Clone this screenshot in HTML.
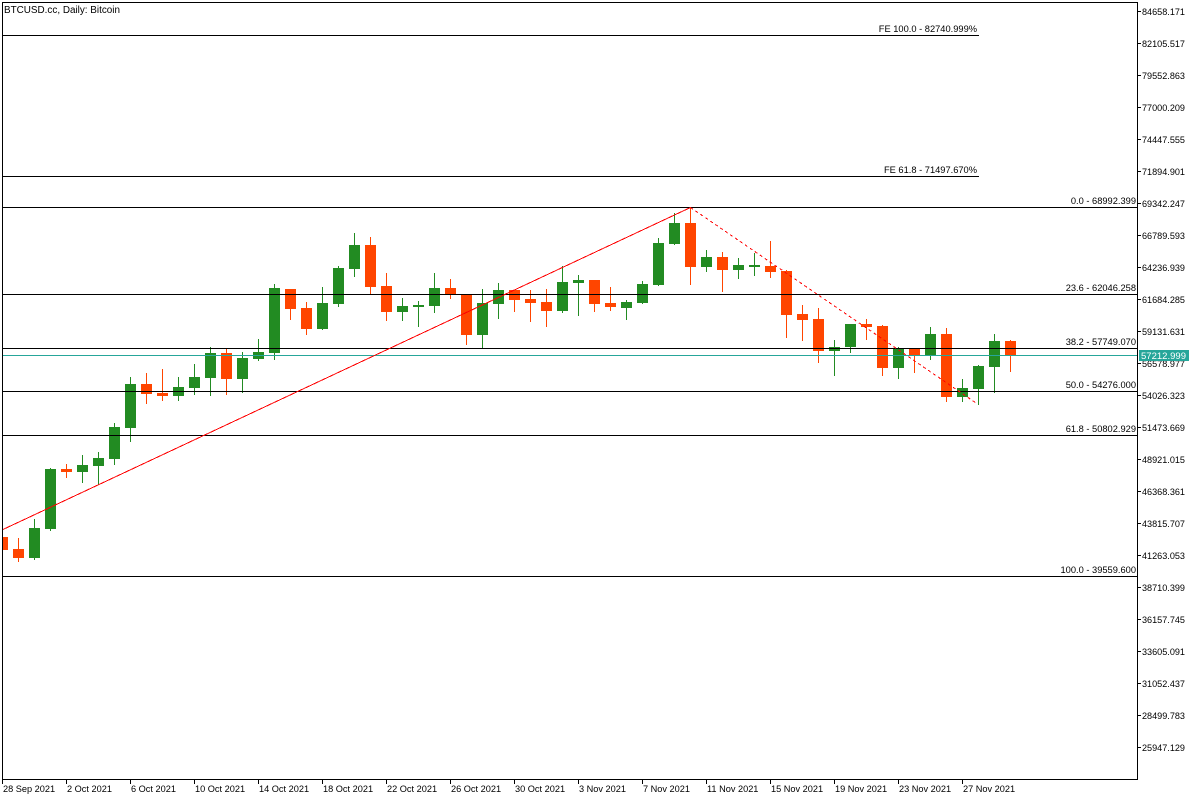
<!DOCTYPE html>
<html><head><meta charset="utf-8"><style>
html,body{margin:0;padding:0;background:#fff;}
svg{display:block;}
text{font-family:"Liberation Sans",sans-serif;fill:#000;}
</style></head><body>
<svg width="1200" height="800" viewBox="0 0 1200 800" xmlns="http://www.w3.org/2000/svg">
<rect x="0" y="0" width="1200" height="800" fill="#fff"/>
<defs><clipPath id="pc"><rect x="3" y="3" width="1134" height="776"/></clipPath></defs>

<g clip-path="url(#pc)" shape-rendering="crispEdges">
<!-- candles -->
<g fill="#ff4500">
<rect x="2" y="535" width="1" height="17"/><rect x="-3" y="537" width="11" height="13"/>
<rect x="18" y="538" width="1" height="24"/><rect x="13" y="549" width="11" height="9"/>
<rect x="66" y="464" width="1" height="14"/><rect x="61" y="469" width="11" height="3"/>
<rect x="146" y="373" width="1" height="31"/><rect x="141" y="384" width="11" height="10"/>
<rect x="162" y="369" width="1" height="32"/><rect x="157" y="393" width="11" height="3"/>
<rect x="226" y="348" width="1" height="47"/><rect x="221" y="353" width="11" height="26"/>
<rect x="290" y="289" width="1" height="31"/><rect x="285" y="289" width="11" height="20"/>
<rect x="306" y="302" width="1" height="33"/><rect x="301" y="308" width="11" height="21"/>
<rect x="370" y="237" width="1" height="57"/><rect x="365" y="245" width="11" height="42"/>
<rect x="386" y="273" width="1" height="48"/><rect x="381" y="286" width="11" height="26"/>
<rect x="450" y="279" width="1" height="20"/><rect x="445" y="288" width="11" height="6"/>
<rect x="466" y="295" width="1" height="50"/><rect x="461" y="295" width="11" height="40"/>
<rect x="514" y="290" width="1" height="22"/><rect x="509" y="290" width="11" height="10"/>
<rect x="530" y="290" width="1" height="32"/><rect x="525" y="299" width="11" height="4"/>
<rect x="546" y="289" width="1" height="38"/><rect x="541" y="302" width="11" height="9"/>
<rect x="594" y="280" width="1" height="32"/><rect x="589" y="280" width="11" height="24"/>
<rect x="610" y="287" width="1" height="24"/><rect x="605" y="303" width="11" height="4"/>
<rect x="690" y="207" width="1" height="78"/><rect x="685" y="223" width="11" height="44"/>
<rect x="722" y="252" width="1" height="40"/><rect x="717" y="257" width="11" height="13"/>
<rect x="770" y="241" width="1" height="37"/><rect x="765" y="266" width="11" height="6"/>
<rect x="786" y="270" width="1" height="68"/><rect x="781" y="271" width="11" height="44"/>
<rect x="802" y="305" width="1" height="36"/><rect x="797" y="314" width="11" height="6"/>
<rect x="818" y="308" width="1" height="55"/><rect x="813" y="319" width="11" height="32"/>
<rect x="866" y="319" width="1" height="21"/><rect x="861" y="324" width="11" height="3"/>
<rect x="882" y="325" width="1" height="51"/><rect x="877" y="326" width="11" height="42"/>
<rect x="914" y="349" width="1" height="24"/><rect x="909" y="349" width="11" height="6"/>
<rect x="946" y="328" width="1" height="74"/><rect x="941" y="334" width="11" height="63"/>
<rect x="1010" y="340" width="1" height="32"/><rect x="1005" y="341" width="11" height="15"/>
</g>
<g fill="#228b22">
<rect x="34" y="519" width="1" height="41"/><rect x="29" y="528" width="11" height="30"/>
<rect x="50" y="468" width="1" height="63"/><rect x="45" y="469" width="11" height="60"/>
<rect x="82" y="455" width="1" height="28"/><rect x="77" y="465" width="11" height="7"/>
<rect x="98" y="452" width="1" height="33"/><rect x="93" y="458" width="11" height="8"/>
<rect x="114" y="423" width="1" height="42"/><rect x="109" y="427" width="11" height="32"/>
<rect x="130" y="377" width="1" height="65"/><rect x="125" y="384" width="11" height="44"/>
<rect x="178" y="377" width="1" height="24"/><rect x="173" y="387" width="11" height="9"/>
<rect x="194" y="364" width="1" height="31"/><rect x="189" y="377" width="11" height="11"/>
<rect x="210" y="347" width="1" height="49"/><rect x="205" y="353" width="11" height="25"/>
<rect x="242" y="352" width="1" height="41"/><rect x="237" y="358" width="11" height="21"/>
<rect x="258" y="339" width="1" height="22"/><rect x="253" y="352" width="11" height="7"/>
<rect x="274" y="284" width="1" height="76"/><rect x="269" y="288" width="11" height="65"/>
<rect x="322" y="287" width="1" height="43"/><rect x="317" y="303" width="11" height="26"/>
<rect x="338" y="266" width="1" height="41"/><rect x="333" y="268" width="11" height="36"/>
<rect x="354" y="233" width="1" height="44"/><rect x="349" y="245" width="11" height="24"/>
<rect x="402" y="298" width="1" height="23"/><rect x="397" y="306" width="11" height="6"/>
<rect x="418" y="301" width="1" height="26"/><rect x="413" y="305" width="11" height="2"/>
<rect x="434" y="273" width="1" height="40"/><rect x="429" y="288" width="11" height="18"/>
<rect x="482" y="289" width="1" height="59"/><rect x="477" y="303" width="11" height="32"/>
<rect x="498" y="283" width="1" height="36"/><rect x="493" y="290" width="11" height="14"/>
<rect x="562" y="266" width="1" height="47"/><rect x="557" y="282" width="11" height="29"/>
<rect x="578" y="275" width="1" height="41"/><rect x="573" y="280" width="11" height="3"/>
<rect x="626" y="300" width="1" height="20"/><rect x="621" y="302" width="11" height="6"/>
<rect x="642" y="281" width="1" height="23"/><rect x="637" y="284" width="11" height="19"/>
<rect x="658" y="238" width="1" height="48"/><rect x="653" y="243" width="11" height="42"/>
<rect x="674" y="213" width="1" height="32"/><rect x="669" y="223" width="11" height="21"/>
<rect x="706" y="250" width="1" height="22"/><rect x="701" y="257" width="11" height="10"/>
<rect x="738" y="258" width="1" height="21"/><rect x="733" y="265" width="11" height="5"/>
<rect x="754" y="253" width="1" height="23"/><rect x="749" y="265" width="11" height="2"/>
<rect x="834" y="340" width="1" height="36"/><rect x="829" y="347" width="11" height="4"/>
<rect x="850" y="324" width="1" height="29"/><rect x="845" y="324" width="11" height="23"/>
<rect x="898" y="347" width="1" height="32"/><rect x="893" y="349" width="11" height="19"/>
<rect x="930" y="327" width="1" height="33"/><rect x="925" y="334" width="11" height="21"/>
<rect x="962" y="379" width="1" height="23"/><rect x="957" y="388" width="11" height="9"/>
<rect x="978" y="365" width="1" height="40"/><rect x="973" y="366" width="11" height="23"/>
<rect x="994" y="334" width="1" height="59"/><rect x="989" y="341" width="11" height="26"/>
</g>

<!-- current price line -->
<rect x="2" y="355" width="1136" height="1" fill="#26a69a"/>

<!-- fib levels -->
<g fill="#000">
<rect x="2" y="35" width="977" height="1"/>
<rect x="2" y="176" width="977" height="1"/>
<rect x="2" y="207" width="1136" height="1"/>
<rect x="2" y="294" width="1136" height="1"/>
<rect x="2" y="348" width="1136" height="1"/>
<rect x="2" y="391" width="1136" height="1"/>
<rect x="2" y="435" width="1136" height="1"/>
<rect x="2" y="576" width="1136" height="1"/>
</g>

<!-- trend lines -->
<line x1="-100" y1="577.7" x2="690.5" y2="207.5" stroke="#ff0000" stroke-width="1"/>
<line x1="690.5" y1="207.5" x2="977.5" y2="404" stroke="#ff0000" stroke-width="1" stroke-dasharray="3,3"/>
</g>

<!-- frame -->
<g fill="#000" shape-rendering="crispEdges">
<rect x="2" y="2" width="1136" height="1"/>
<rect x="2" y="2" width="1" height="778"/>
<rect x="2" y="779" width="1136" height="1"/>
<rect x="1137" y="2" width="1" height="778"/>
</g>

<!-- title -->
<text x="4" y="13" font-size="10" textLength="116" lengthAdjust="spacingAndGlyphs">BTCUSD.cc, Daily:  Bitcoin</text>

<!-- fib labels -->
<g font-size="9.3" text-anchor="end">
<text x="977" y="32">FE 100.0 - 82740.999%</text>
<text x="977" y="173">FE 61.8 - 71497.670%</text>
<text x="1136" y="204">0.0 - 68992.399</text>
<text x="1136" y="291">23.6 - 62046.258</text>
<text x="1136" y="345">38.2 - 57749.070</text>
<text x="1136" y="388">50.0 - 54276.000</text>
<text x="1136" y="432">61.8 - 50802.929</text>
<text x="1136" y="573">100.0 - 39559.600</text>
</g>

<!-- right axis ticks -->
<g fill="#000" shape-rendering="crispEdges">
<rect x="1137" y="11" width="4" height="1"/><rect x="1137" y="43" width="4" height="1"/>
<rect x="1137" y="75" width="4" height="1"/><rect x="1137" y="107" width="4" height="1"/>
<rect x="1137" y="139" width="4" height="1"/><rect x="1137" y="171" width="4" height="1"/>
<rect x="1137" y="203" width="4" height="1"/><rect x="1137" y="235" width="4" height="1"/>
<rect x="1137" y="267" width="4" height="1"/><rect x="1137" y="299" width="4" height="1"/>
<rect x="1137" y="331" width="4" height="1"/><rect x="1137" y="363" width="4" height="1"/>
<rect x="1137" y="395" width="4" height="1"/><rect x="1137" y="427" width="4" height="1"/>
<rect x="1137" y="459" width="4" height="1"/><rect x="1137" y="491" width="4" height="1"/>
<rect x="1137" y="523" width="4" height="1"/><rect x="1137" y="555" width="4" height="1"/>
<rect x="1137" y="587" width="4" height="1"/><rect x="1137" y="619" width="4" height="1"/>
<rect x="1137" y="651" width="4" height="1"/><rect x="1137" y="683" width="4" height="1"/>
<rect x="1137" y="715" width="4" height="1"/><rect x="1137" y="747" width="4" height="1"/>
</g>
<g font-size="9.5">
<text x="1142" y="15" textLength="43" lengthAdjust="spacingAndGlyphs">84658.171</text>
<text x="1142" y="47" textLength="43" lengthAdjust="spacingAndGlyphs">82105.517</text>
<text x="1142" y="79" textLength="43" lengthAdjust="spacingAndGlyphs">79552.863</text>
<text x="1142" y="111" textLength="43" lengthAdjust="spacingAndGlyphs">77000.209</text>
<text x="1142" y="143" textLength="43" lengthAdjust="spacingAndGlyphs">74447.555</text>
<text x="1142" y="175" textLength="43" lengthAdjust="spacingAndGlyphs">71894.901</text>
<text x="1142" y="207" textLength="43" lengthAdjust="spacingAndGlyphs">69342.247</text>
<text x="1142" y="239" textLength="43" lengthAdjust="spacingAndGlyphs">66789.593</text>
<text x="1142" y="271" textLength="43" lengthAdjust="spacingAndGlyphs">64236.939</text>
<text x="1142" y="303" textLength="43" lengthAdjust="spacingAndGlyphs">61684.285</text>
<text x="1142" y="335" textLength="43" lengthAdjust="spacingAndGlyphs">59131.631</text>
<text x="1142" y="367" textLength="43" lengthAdjust="spacingAndGlyphs">56578.977</text>
<text x="1142" y="399" textLength="43" lengthAdjust="spacingAndGlyphs">54026.323</text>
<text x="1142" y="431" textLength="43" lengthAdjust="spacingAndGlyphs">51473.669</text>
<text x="1142" y="463" textLength="43" lengthAdjust="spacingAndGlyphs">48921.015</text>
<text x="1142" y="495" textLength="43" lengthAdjust="spacingAndGlyphs">46368.361</text>
<text x="1142" y="527" textLength="43" lengthAdjust="spacingAndGlyphs">43815.707</text>
<text x="1142" y="559" textLength="43" lengthAdjust="spacingAndGlyphs">41263.053</text>
<text x="1142" y="591" textLength="43" lengthAdjust="spacingAndGlyphs">38710.399</text>
<text x="1142" y="623" textLength="43" lengthAdjust="spacingAndGlyphs">36157.745</text>
<text x="1142" y="655" textLength="43" lengthAdjust="spacingAndGlyphs">33605.091</text>
<text x="1142" y="687" textLength="43" lengthAdjust="spacingAndGlyphs">31052.437</text>
<text x="1142" y="719" textLength="43" lengthAdjust="spacingAndGlyphs">28499.783</text>
<text x="1142" y="751" textLength="43" lengthAdjust="spacingAndGlyphs">25947.129</text>
</g>

<!-- current price label -->
<rect x="1139" y="350" width="50" height="11" fill="#26a69a"/>
<text x="1141" y="359" font-size="9.5" textLength="45" lengthAdjust="spacingAndGlyphs" style="fill:#fff">57212.999</text>

<!-- bottom date ticks -->
<g fill="#000" shape-rendering="crispEdges">
<rect x="2" y="779" width="1" height="5"/><rect x="66" y="779" width="1" height="5"/>
<rect x="130" y="779" width="1" height="5"/><rect x="194" y="779" width="1" height="5"/>
<rect x="258" y="779" width="1" height="5"/><rect x="322" y="779" width="1" height="5"/>
<rect x="386" y="779" width="1" height="5"/><rect x="450" y="779" width="1" height="5"/>
<rect x="514" y="779" width="1" height="5"/><rect x="578" y="779" width="1" height="5"/>
<rect x="642" y="779" width="1" height="5"/><rect x="706" y="779" width="1" height="5"/>
<rect x="770" y="779" width="1" height="5"/><rect x="834" y="779" width="1" height="5"/>
<rect x="898" y="779" width="1" height="5"/><rect x="962" y="779" width="1" height="5"/>
</g>
<g font-size="9.2">
<text x="3" y="792">28 Sep 2021</text>
<text x="67" y="792">2 Oct 2021</text>
<text x="131" y="792">6 Oct 2021</text>
<text x="195" y="792">10 Oct 2021</text>
<text x="259" y="792">14 Oct 2021</text>
<text x="323" y="792">18 Oct 2021</text>
<text x="387" y="792">22 Oct 2021</text>
<text x="451" y="792">26 Oct 2021</text>
<text x="515" y="792">30 Oct 2021</text>
<text x="579" y="792">3 Nov 2021</text>
<text x="643" y="792">7 Nov 2021</text>
<text x="707" y="792">11 Nov 2021</text>
<text x="771" y="792">15 Nov 2021</text>
<text x="835" y="792">19 Nov 2021</text>
<text x="899" y="792">23 Nov 2021</text>
<text x="963" y="792">27 Nov 2021</text>
</g>
</svg>
</body></html>
